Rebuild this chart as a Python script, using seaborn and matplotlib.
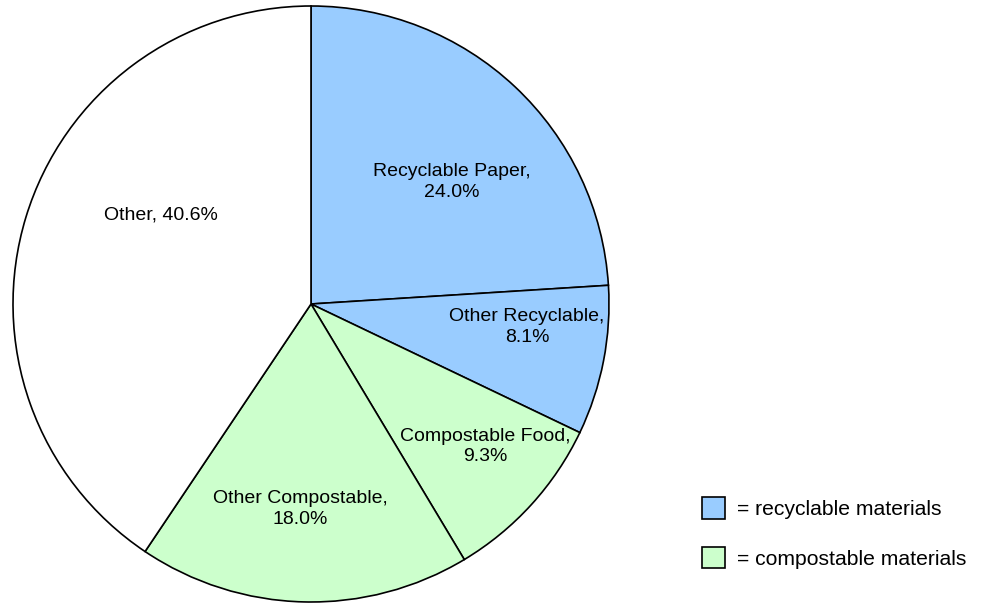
import matplotlib
matplotlib.use("Agg")
import matplotlib.pyplot as plt
import seaborn as sns
from matplotlib.patches import Patch

sns.set_style("white")
plt.rcParams['font.family'] = ['Liberation Sans', 'DejaVu Sans']
plt.rcParams['text.color'] = 'black'

# data
categories = ['Recyclable Paper', 'Other Recyclable', 'Compostable Food',
              'Other Compostable', 'Other']
shares = [24.0, 8.1, 9.3, 18.0, 40.6]
groups = ['recyclable', 'recyclable', 'compostable', 'compostable', 'other']

group_colors = {'recyclable': '#99CCFF', 'compostable': '#CCFFCC', 'other': '#FFFFFF'}
legend_labels = {'recyclable': '= recyclable materials',
                 'compostable': '= compostable materials'}

fig = plt.figure(figsize=(9.82, 6.03), dpi=100)
ax = fig.add_axes([13 / 982, 1 / 603, 596 / 982, 596 / 603])

labels = [f"{c},\n{v:.1f}%" for c, v in zip(categories, shares)]
wedges, texts = ax.pie(shares, labels=labels, colors=[group_colors[g] for g in groups],
                       startangle=90, counterclock=False, labeldistance=0.65,
                       wedgeprops=dict(edgecolor='black', linewidth=1.2),
                       textprops=dict(fontsize=14, color='black', ha='center', va='center'))

# label placement like the original (inside slices)
label_pos = [(0.473, 0.409), (0.725, -0.077), (0.584, -0.477), (-0.037, -0.688), (-0.502, 0.297)]
for t, (x, y) in zip(texts, label_pos):
    t.set_position((x, y))
    t.set_ha('center')
    t.set_va('center')
    t.set_multialignment('center')
    t.set_linespacing(1.25)
texts[-1].set_text(f"{categories[-1]}, {shares[-1]:.1f}%")

ax.set_xlim(-1, 1)
ax.set_ylim(-1, 1)
ax.set_aspect('equal')
ax.axis('off')

handles = [Patch(facecolor=group_colors[g], edgecolor='black', linewidth=1.2)
           for g in ['recyclable', 'compostable']]
fig.legend(handles, [legend_labels['recyclable'], legend_labels['compostable']],
           loc='center left', bbox_to_anchor=(702 / 982, 1 - 533 / 603),
           frameon=False, fontsize=15.2, borderpad=0, borderaxespad=0,
           handlelength=1.07, handleheight=1.2, handletextpad=0.57, labelspacing=1.3)

fig.savefig('out.png', dpi=100)
